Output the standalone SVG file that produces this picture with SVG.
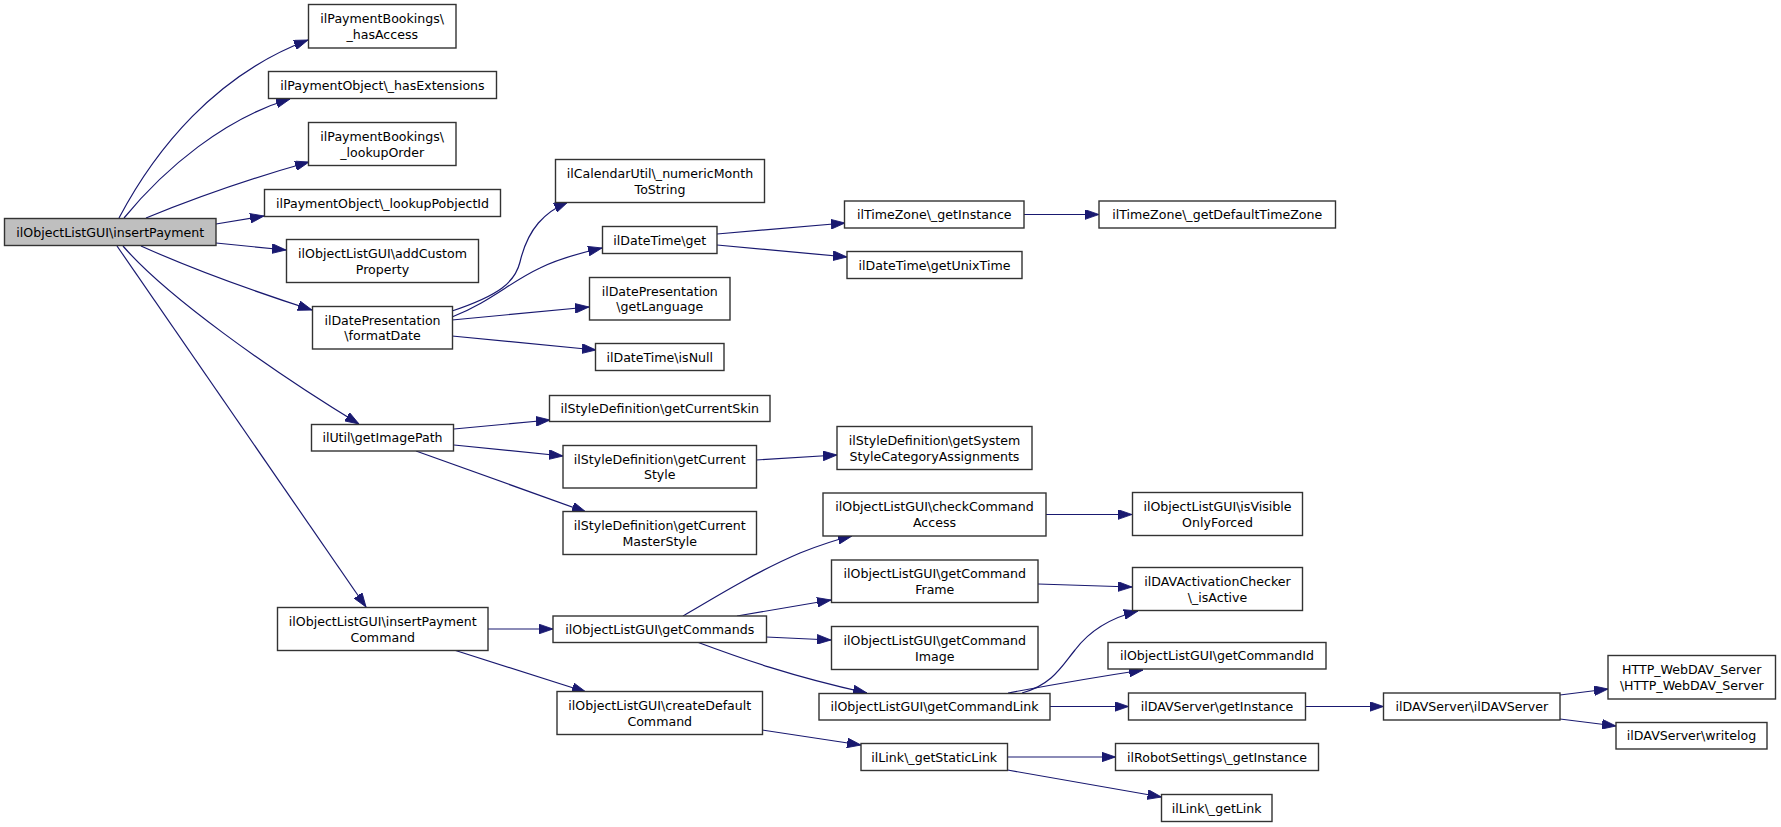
<svg xmlns="http://www.w3.org/2000/svg" width="1781" height="827" viewBox="0 0 1781 827">
<style>
.n rect{fill:#fff;stroke:#333;stroke-width:1.4}
.n.root rect{fill:#bfbfbf}
.n text{font-family:"DejaVu Sans","Liberation Sans",sans-serif;font-size:12.6px;fill:#000;text-anchor:middle}
.e path{fill:none;stroke:#191970;stroke-width:1.2;marker-end:url(#ah)}
</style>
<defs>
<marker id="ah" markerUnits="userSpaceOnUse" markerWidth="14" markerHeight="10" viewBox="0 0 13 9" refX="13" refY="4.5" orient="auto">
<path d="M0,0 L13,4.5 L0,9 z" fill="#191970" stroke="#191970" stroke-width="0.8"/>
</marker>
</defs>
<rect width="1781" height="827" fill="#fff"/>
<g id="connectors" class="e">
<path d="M119,218 C155,150 215,75 308,40"/>
<path d="M124,218 C165,168 225,118 290,99"/>
<path d="M146,218 C190,200 245,180 309,162"/>
<path d="M216,224 L264,216"/>
<path d="M216,243 L286,250"/>
<path d="M141,246 C190,268 250,290 312,310"/>
<path d="M123,246 C165,295 270,370 359,424"/>
<path d="M117,246 L366,607"/>
<path d="M452,311 C500,295 515,282 520,262 C528,228 545,212 568,202"/>
<path d="M452,317 C490,302 510,282 540,268 C560,258 580,253 602,248"/>
<path d="M452,320 L589,307"/>
<path d="M452,336 L596,350"/>
<path d="M717,234 L845,223"/>
<path d="M717,245 L847,257"/>
<path d="M1024,214.5 L1099,214.5"/>
<path d="M454,429 L550,420"/>
<path d="M454,445 L563,456"/>
<path d="M416,451 L586,512"/>
<path d="M756,460 L837,455"/>
<path d="M488,629 L553,629"/>
<path d="M454,650 L586,692"/>
<path d="M683,616 C720,594 760,570 800,553 C820,545 835,540 852,536"/>
<path d="M737,616 L831,600"/>
<path d="M766,637 L831,640"/>
<path d="M697,642 C740,658 790,676 867,693"/>
<path d="M762,730 L861,745"/>
<path d="M1046,514.5 L1132,514.5"/>
<path d="M1038,584 L1132,587"/>
<path d="M1022,693 C1052,685 1062,666 1075,650 C1090,630 1110,618 1138,611"/>
<path d="M1008,693 C1040,687 1090,678 1143,670"/>
<path d="M1050,706.5 L1128.5,706.5"/>
<path d="M1007.5,757 L1115.5,757"/>
<path d="M1007.5,770 L1161.5,797"/>
<path d="M1305.5,706.5 L1383.5,706.5"/>
<path d="M1560,695 L1608,689"/>
<path d="M1560,719 L1616,726"/>
</g>
<g id="n0" class="n root"><rect x="4.5" y="218.5" width="211.5" height="27"/><text x="110.25" y="236.5">ilObjectListGUI\insertPayment</text></g>
<g id="n1" class="n"><rect x="308.5" y="4.5" width="147.5" height="43.5"/><text x="382.25" y="23">ilPaymentBookings\</text><text x="382.25" y="38.8">_hasAccess</text></g>
<g id="n2" class="n"><rect x="268.5" y="71.5" width="228" height="27"/><text x="382.5" y="89.5">ilPaymentObject\_hasExtensions</text></g>
<g id="n3" class="n"><rect x="308.5" y="122.5" width="147.5" height="43"/><text x="382.25" y="140.7">ilPaymentBookings\</text><text x="382.25" y="156.5">_lookupOrder</text></g>
<g id="n4" class="n"><rect x="264.5" y="189.5" width="236" height="27"/><text x="382.5" y="207.5">ilPaymentObject\_lookupPobjectId</text></g>
<g id="n5" class="n"><rect x="286.5" y="239.5" width="192" height="43"/><text x="382.5" y="257.7">ilObjectListGUI\addCustom</text><text x="382.5" y="273.5">Property</text></g>
<g id="n6" class="n"><rect x="312.5" y="306.5" width="140" height="42.5"/><text x="382.5" y="324.5">ilDatePresentation</text><text x="382.5" y="340.3">\formatDate</text></g>
<g id="n7" class="n"><rect x="311.5" y="424.5" width="142" height="26.5"/><text x="382.5" y="442.3">ilUtil\getImagePath</text></g>
<g id="n8" class="n"><rect x="277.5" y="607.5" width="210.5" height="43"/><text x="382.75" y="625.7">ilObjectListGUI\insertPayment</text><text x="382.75" y="641.5">Command</text></g>
<g id="n9" class="n"><rect x="555.5" y="159.5" width="209" height="43"/><text x="660" y="177.7">ilCalendarUtil\_numericMonth</text><text x="660" y="193.5">ToString</text></g>
<g id="n10" class="n"><rect x="602.5" y="226.5" width="114.5" height="27"/><text x="659.75" y="244.5">ilDateTime\get</text></g>
<g id="n11" class="n"><rect x="589.5" y="277.5" width="140.5" height="42.5"/><text x="659.75" y="295.5">ilDatePresentation</text><text x="659.75" y="311.3">\getLanguage</text></g>
<g id="n12" class="n"><rect x="595.5" y="343.5" width="128.5" height="27"/><text x="659.75" y="361.5">ilDateTime\isNull</text></g>
<g id="n13" class="n"><rect x="549.5" y="395.5" width="220.5" height="26"/><text x="659.75" y="413">ilStyleDefinition\getCurrentSkin</text></g>
<g id="n14" class="n"><rect x="563" y="445.5" width="193.5" height="42.5"/><text x="659.75" y="463.5">ilStyleDefinition\getCurrent</text><text x="659.75" y="479.3">Style</text></g>
<g id="n15" class="n"><rect x="563" y="511.5" width="193.5" height="43"/><text x="659.75" y="529.7">ilStyleDefinition\getCurrent</text><text x="659.75" y="545.5">MasterStyle</text></g>
<g id="n16" class="n"><rect x="553" y="616" width="213.5" height="26.5"/><text x="659.75" y="633.75">ilObjectListGUI\getCommands</text></g>
<g id="n17" class="n"><rect x="557" y="691.5" width="205.5" height="43"/><text x="659.75" y="709.7">ilObjectListGUI\createDefault</text><text x="659.75" y="725.5">Command</text></g>
<g id="n18" class="n"><rect x="844.5" y="201" width="179.5" height="27"/><text x="934.25" y="219">ilTimeZone\_getInstance</text></g>
<g id="n19" class="n"><rect x="847" y="251.5" width="175" height="27"/><text x="934.5" y="269.5">ilDateTime\getUnixTime</text></g>
<g id="n20" class="n"><rect x="837" y="426.5" width="195" height="43"/><text x="934.5" y="444.7">ilStyleDefinition\getSystem</text><text x="934.5" y="460.5">StyleCategoryAssignments</text></g>
<g id="n21" class="n"><rect x="823" y="493" width="223" height="43"/><text x="934.5" y="511.2">ilObjectListGUI\checkCommand</text><text x="934.5" y="527">Access</text></g>
<g id="n22" class="n"><rect x="831.5" y="560" width="206.5" height="42.5"/><text x="934.75" y="578">ilObjectListGUI\getCommand</text><text x="934.75" y="593.8">Frame</text></g>
<g id="n23" class="n"><rect x="831.5" y="626.5" width="206.5" height="43"/><text x="934.75" y="644.7">ilObjectListGUI\getCommand</text><text x="934.75" y="660.5">Image</text></g>
<g id="n24" class="n"><rect x="819" y="693.5" width="231" height="26.5"/><text x="934.5" y="711.25">ilObjectListGUI\getCommandLink</text></g>
<g id="n25" class="n"><rect x="861" y="743.5" width="146.5" height="27"/><text x="934.25" y="761.5">ilLink\_getStaticLink</text></g>
<g id="n26" class="n"><rect x="1099" y="201" width="236.5" height="27"/><text x="1217.25" y="219">ilTimeZone\_getDefaultTimeZone</text></g>
<g id="n27" class="n"><rect x="1132.5" y="492.5" width="170" height="43"/><text x="1217.5" y="510.7">ilObjectListGUI\isVisible</text><text x="1217.5" y="526.5">OnlyForced</text></g>
<g id="n28" class="n"><rect x="1132.5" y="567.5" width="170" height="43"/><text x="1217.5" y="585.7">ilDAVActivationChecker</text><text x="1217.5" y="601.5">\_isActive</text></g>
<g id="n29" class="n"><rect x="1108" y="642.5" width="218" height="26.5"/><text x="1217" y="660.25">ilObjectListGUI\getCommandId</text></g>
<g id="n30" class="n"><rect x="1128.5" y="693" width="177" height="27"/><text x="1217" y="711">ilDAVServer\getInstance</text></g>
<g id="n31" class="n"><rect x="1115.5" y="743.5" width="203" height="27"/><text x="1217" y="761.5">ilRobotSettings\_getInstance</text></g>
<g id="n32" class="n"><rect x="1161.5" y="794.5" width="110.5" height="27"/><text x="1216.75" y="812.5">ilLink\_getLink</text></g>
<g id="n33" class="n"><rect x="1383.5" y="693" width="176.5" height="27"/><text x="1471.75" y="711">ilDAVServer\ilDAVServer</text></g>
<g id="n34" class="n"><rect x="1608" y="655.5" width="167.5" height="43.5"/><text x="1691.75" y="674">HTTP_WebDAV_Server</text><text x="1691.75" y="689.8">\HTTP_WebDAV_Server</text></g>
<g id="n35" class="n"><rect x="1616" y="722.5" width="151" height="26.5"/><text x="1691.5" y="740.25">ilDAVServer\writelog</text></g>
</svg>
